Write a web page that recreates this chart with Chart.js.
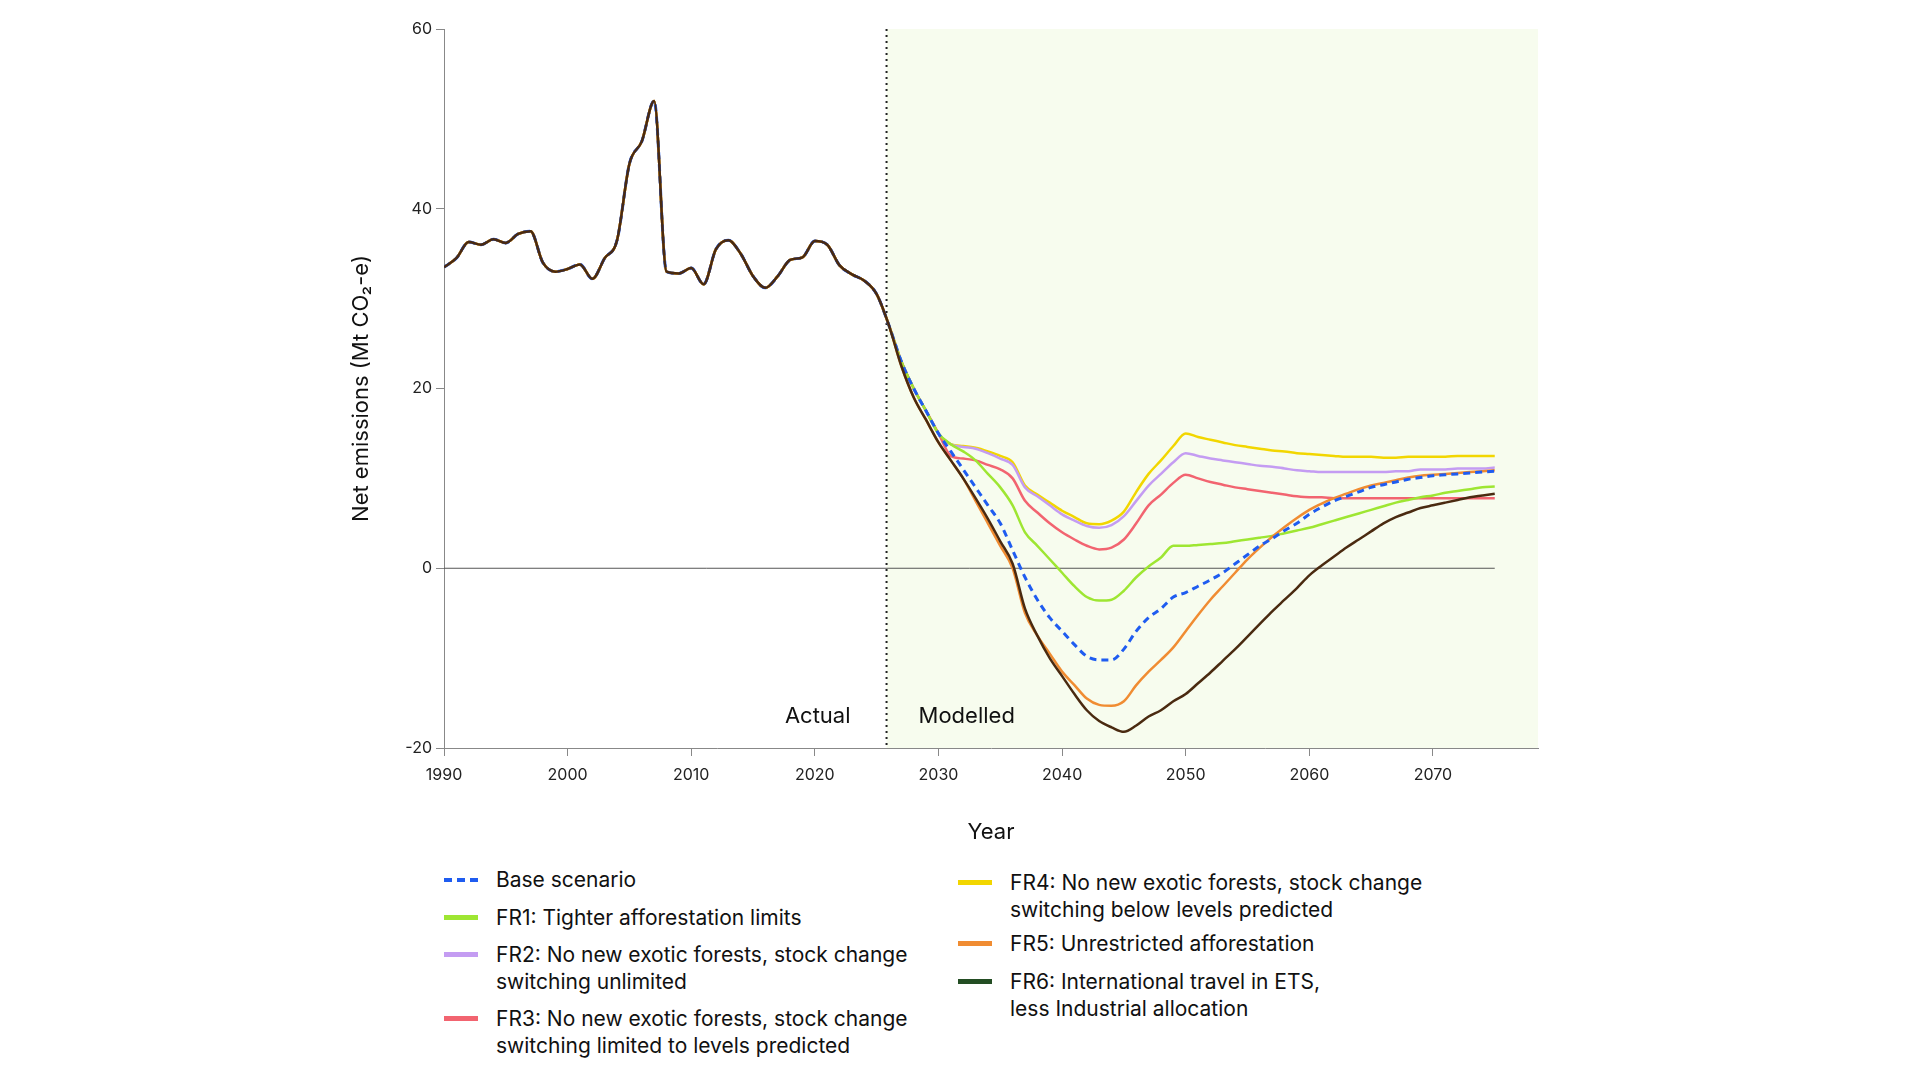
<!DOCTYPE html>
<html>
<head>
<meta charset="utf-8">
<script src="https://cdn.jsdelivr.net/npm/chart.js@4"></script>
<style>
  body { margin: 0; width: 1920px; height: 1080px; background: #fff; font-family: Inter, "Noto Sans", sans-serif; position: relative; overflow: hidden; }
  #wrap { position: absolute; left: 0; top: 0; width: 1920px; height: 850px; }
  .leg { position: absolute; font-size: 21px; color: #111; line-height: 27px; }
  .leg .sw { position: absolute; left: -52px; top: 11px; width: 34px; height: 5px; }
</style>
</head>
<body>
<div id="wrap"><canvas id="chart"></canvas></div>

<div class="leg" style="left:496px;top:866px"><span class="sw" style="height:0;border-top:4px dashed #1f5cf0;top:12px"></span>Base scenario</div>
<div class="leg" style="left:496px;top:904px"><span class="sw" style="background:#9ee632"></span>FR1: Tighter afforestation limits</div>
<div class="leg" style="left:496px;top:941px"><span class="sw" style="background:#c49cf2"></span>FR2: No new exotic forests, stock change<br>switching unlimited</div>
<div class="leg" style="left:496px;top:1005px"><span class="sw" style="background:#f26470"></span>FR3: No new exotic forests, stock change<br>switching limited to levels predicted</div>
<div class="leg" style="left:1010px;top:869px"><span class="sw" style="background:#f2d600"></span>FR4: No new exotic forests, stock change<br>switching below levels predicted</div>
<div class="leg" style="left:1010px;top:930px"><span class="sw" style="background:#f08c32"></span>FR5: Unrestricted afforestation</div>
<div class="leg" style="left:1010px;top:968px"><span class="sw" style="background:#234d23"></span>FR6: International travel in ETS,<br>less Industrial allocation</div>

<script>
// years 1990..2029 shared history + early projection
const histYears = [];
for (let y = 1990; y <= 2029; y++) histYears.push(y);
const history = [33.5, 34.5, 36.3, 36, 36.6, 36.2, 37.2, 37.5, 34, 33, 33.3, 33.8, 32.2, 34.5, 36.5, 45, 47.5, 52, 33, 32.8,
  33.4, 31.6, 35.5, 36.5, 35, 32.5, 31.2, 32.5, 34.3, 34.6, 36.4, 36, 33.7, 32.7, 32, 30.5, 27, 23, 20, 17.5];
const historyLow = [27, 22.5, 19, 16.5]; // FR5 / FR6 for 2026..2029

const projYears = [];
for (let y = 2030; y <= 2075; y++) projYears.push(y);

const baseProj = [15, 13, 11, 9, 7, 5, 2, -1, -3.5, -5.5, -7, -8.5, -9.8, -10.2, -10.2, -9, -7, -5.5, -4.5, -3.2,
  -2.7, -2, -1.3, -0.5, 0.5, 1.5, 2.5, 3.3, 4.2, 5, 6, 6.8, 7.5, 8, 8.5, 9, 9.3, 9.6, 9.9, 10.1, 10.3, 10.4, 10.5, 10.6, 10.7, 10.8];
const fr1Proj = [15, 13.8, 13, 12, 10.5, 9, 7, 4, 2.5, 1, -0.5, -2, -3.2, -3.6, -3.5, -2.5, -1, 0.2, 1.2, 2.5,
  2.5, 2.6, 2.7, 2.8, 3, 3.2, 3.4, 3.6, 3.9, 4.2, 4.5, 4.9, 5.3, 5.7, 6.1, 6.5, 6.9, 7.3, 7.6, 7.9, 8.1, 8.4, 8.6, 8.8, 9, 9.1];
const fr2Proj = [15, 13.8, 13.5, 13.3, 12.8, 12.2, 11.5, 9, 8, 7, 6, 5.3, 4.7, 4.5, 4.8, 5.8, 7.5, 9.2, 10.5, 11.8,
  12.8, 12.5, 12.2, 12, 11.8, 11.6, 11.4, 11.3, 11.1, 10.9, 10.8, 10.7, 10.7, 10.7, 10.7, 10.7, 10.7, 10.8, 10.8, 11, 11, 11, 11.1, 11.1, 11.1, 11.2];
const fr3Proj = [15, 12.5, 12.2, 12, 11.5, 11, 10, 7.5, 6.2, 5, 4, 3.2, 2.5, 2.1, 2.3, 3.2, 5, 7, 8.2, 9.5,
  10.4, 10, 9.6, 9.3, 9, 8.8, 8.6, 8.4, 8.2, 8, 7.9, 7.9, 7.8, 7.8, 7.8, 7.8, 7.8, 7.8, 7.8, 7.8, 7.8, 7.8, 7.8, 7.8, 7.8, 7.8];
const fr4Proj = [15, 13.8, 13.6, 13.4, 13, 12.5, 11.8, 9.2, 8.2, 7.3, 6.4, 5.7, 5, 4.9, 5.3, 6.3, 8.5, 10.5, 12, 13.6,
  15, 14.6, 14.3, 14, 13.7, 13.5, 13.3, 13.1, 13, 12.8, 12.7, 12.6, 12.5, 12.4, 12.4, 12.4, 12.3, 12.3, 12.4, 12.4, 12.4, 12.4, 12.5, 12.5, 12.5, 12.5];
const fr5Proj = [14, 12, 10, 7.5, 5, 2.5, 0, -5, -7.5, -9.5, -11.5, -13, -14.5, -15.2, -15.3, -14.8, -13, -11.5, -10.2, -8.8,
  -7, -5.2, -3.5, -2, -0.5, 1, 2.3, 3.5, 4.6, 5.6, 6.5, 7.2, 7.8, 8.3, 8.8, 9.2, 9.5, 9.8, 10.1, 10.3, 10.4, 10.5, 10.6, 10.7, 10.8, 10.9];
const fr6Proj = [14, 12, 10, 7.8, 5.5, 3, 0.5, -4.5, -7.5, -10, -12, -14, -15.8, -17, -17.7, -18.2, -17.5, -16.5, -15.8, -14.8,
  -14, -12.8, -11.6, -10.3, -9, -7.6, -6.2, -4.8, -3.5, -2.2, -0.8, 0.3, 1.3, 2.3, 3.2, 4.1, 5, 5.7, 6.2, 6.7, 7, 7.3, 7.6, 7.9, 8.1, 8.3];

const xTicks = [1990, 2000, 2010, 2020, 2030, 2040, 2050, 2060, 2070];
const yTicks = [-20, 0, 20, 40, 60];
const splitYear = 2025.8;

function series(proj, low) {
  const vals = low ? history.slice(0, 36).concat(historyLow) : history;
  const pts = histYears.map((y, i) => ({ x: y, y: vals[i] }));
  return pts.concat(projYears.map((y, i) => ({ x: y, y: proj[i] })));
}

function ds(label, proj, color, low, extra) {
  return Object.assign({ label, data: series(proj, low), borderColor: color, borderWidth: 2.5,
    pointRadius: 0, tension: 0.4, cubicInterpolationMode: 'monotone', fill: false }, extra || {});
}

const backdrop = {
  id: 'backdrop',
  beforeDatasetsDraw(chart) {
    const { ctx, chartArea, scales: { x, y } } = chart;
    const sx = x.getPixelForValue(splitYear);
    ctx.save();
    ctx.fillStyle = '#f7fcee';
    ctx.fillRect(sx, chartArea.top, chartArea.right - sx, chartArea.bottom - chartArea.top);
    ctx.strokeStyle = '#555';
    ctx.lineWidth = 1;
    ctx.beginPath();
    ctx.moveTo(x.getPixelForValue(1990), y.getPixelForValue(0));
    ctx.lineTo(x.getPixelForValue(2075), y.getPixelForValue(0));
    ctx.stroke();
    ctx.strokeStyle = '#222';
    ctx.lineWidth = 2;
    ctx.setLineDash([2, 4]);
    ctx.beginPath();
    ctx.moveTo(sx, chartArea.top);
    ctx.lineTo(sx, chartArea.bottom);
    ctx.stroke();
    ctx.setLineDash([]);
    ctx.fillStyle = '#111';
    ctx.font = '22px Inter, "Noto Sans", sans-serif';
    ctx.textBaseline = 'middle';
    const ty = y.getPixelForValue(-16.5);
    ctx.textAlign = 'right';
    ctx.fillText('Actual', sx - 36, ty);
    ctx.textAlign = 'left';
    ctx.fillText('Modelled', sx + 32, ty);
    ctx.restore();
  }
};

// first dataset is drawn on top
new Chart(document.getElementById('chart'), {
  type: 'line',
  data: {
    datasets: [
      ds('FR6', fr6Proj, '#4a2a10', true),
      ds('Base', baseProj, '#1f5cf0', false, { borderDash: [7, 5], borderWidth: 3 }),
      ds('FR5', fr5Proj, '#f08c32', true),
      ds('FR1', fr1Proj, '#9ee632', false),
      ds('FR3', fr3Proj, '#f26470', false),
      ds('FR2', fr2Proj, '#c49cf2', false),
      ds('FR4', fr4Proj, '#f2d600', false)
    ]
  },
  options: {
    responsive: true,
    maintainAspectRatio: false,
    animation: false,
    layout: { padding: { left: 344, top: 29, right: 382, bottom: 0 } },
    plugins: { legend: { display: false }, tooltip: { enabled: false } },
    scales: {
      x: {
        type: 'linear', min: 1990, max: 2078.5,
        afterBuildTicks(s) { s.ticks = xTicks.map(v => ({ value: v })); },
        afterFit(s) { s.height = 102; },
        border: { color: '#888', width: 1 },
        grid: { drawOnChartArea: false, tickLength: 8, color: '#888' },
        ticks: { color: '#222', font: { size: 16, family: 'Inter' }, padding: 10, maxRotation: 0, callback: v => String(v) },
        title: { display: true, text: 'Year', color: '#111', font: { size: 22, family: 'Inter' }, padding: { top: 12 } }
      },
      y: {
        min: -20, max: 60,
        afterBuildTicks(s) { s.ticks = yTicks.map(v => ({ value: v })); },
        afterFit(s) { s.width = 100; },
        border: { color: '#888', width: 1 },
        grid: { drawOnChartArea: false, tickLength: 8, color: '#888' },
        ticks: { color: '#222', font: { size: 16, family: 'Inter' }, padding: 4 },
        title: { display: true, text: 'Net emissions (Mt CO\u2082-e)', color: '#111', font: { size: 22, family: 'Inter' }, padding: { bottom: 22 } }
      }
    }
  },
  plugins: [backdrop]
});
</script>
</body>
</html>
